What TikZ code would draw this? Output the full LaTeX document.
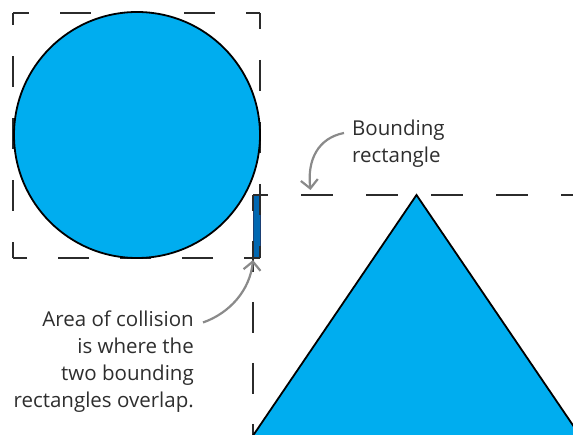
\documentclass[tikz,border=0pt]{standalone}
\usepackage{fontspec}
\setmainfont{Open Sans}
\usetikzlibrary{arrows.meta}
\definecolor{shapefill}{HTML}{00ADEF}
\definecolor{overlapfill}{HTML}{0067B1}
\definecolor{overlapline}{HTML}{1B3F73}
\definecolor{textgray}{HTML}{2E2E2E}
\definecolor{arrowgray}{HTML}{8A8A8A}
\definecolor{dashgray}{HTML}{2B2B2B}
\tikzset{
  bounddash/.style={draw=dashgray, line width=2pt, dash pattern=on 31pt off 31pt, dash phase=15pt},
  shapeline/.style={draw=black, line width=1.8pt, fill=shapefill},
  label/.style={text=textgray, font=\fontsize{20.5}{27}\selectfont, inner sep=0pt},
  pointer/.style={draw=arrowgray, line width=2.2pt, -{Straight Barb[length=8.5pt,width=17pt,line width=2.2pt]}},
}
\begin{document}
\begin{tikzpicture}[x=1pt,y=-1pt]
\useasboundingbox (0,0) rectangle (573,435);
\begin{scope}
\clip (0,0) rectangle (573,435);
% overlap area
\fill[overlapfill] (253,195) rectangle (260,258);
\draw[overlapline, line width=1pt] (253,195) rectangle (260,258);
% first bounding rectangle (circle)
\draw[bounddash] (13,13) -- (260,13);
\draw[bounddash] (260,13) -- (260,258);
\draw[bounddash] (260,258) -- (13,258);
\draw[bounddash] (13,258) -- (13,13);
% second bounding rectangle (triangle)
\draw[bounddash, dash pattern=on 32pt off 33pt, dash phase=17pt] (253,195) -- (620,195);
\draw[bounddash, dash pattern=on 31pt off 30pt, dash phase=15pt] (253,195) -- (253,480);
% shapes
\draw[shapeline] (137,135) circle[radius=123];
\draw[shapeline] (416.5,195) -- (585,443) -- (248,443) -- cycle;
\end{scope}
% labels
\node[label, align=left, anchor=north west] (bound) at (352,119.5) {Bounding\\rectangle};
\node[label, align=right, anchor=north east] (coll) at (194,310.5) {Area of collision\\is where the\\two bounding\\rectangles overlap.};
% pointers
\coordinate (boundtip) at (310.5,190);
\coordinate (colltip) at (253,260);
\draw[pointer] ([xshift=-8pt]bound.west |- 0,133) .. controls (318,138) and (307,160) .. (boundtip);
\draw[pointer] (coll.north east) ++(9,12) .. controls (230,313) and (250,290) .. (colltip);
\end{tikzpicture}
\end{document}
